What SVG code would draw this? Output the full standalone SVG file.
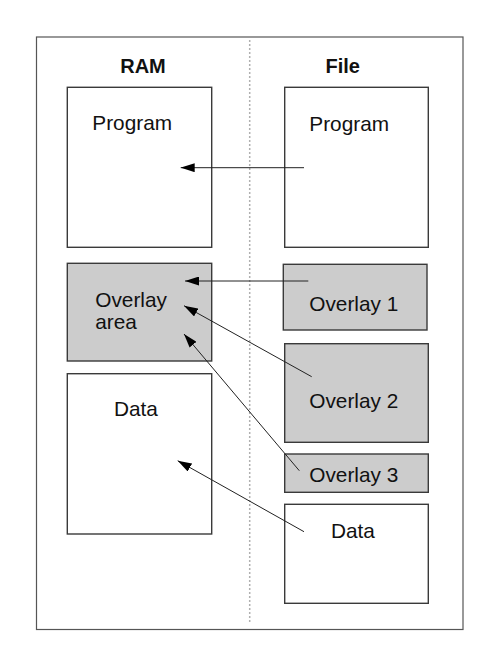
<svg xmlns="http://www.w3.org/2000/svg" width="500" height="667" viewBox="0 0 500 667">
<style>
.box{stroke:#3a3a3a;stroke-width:1.4;fill:#fff}
.gray{fill:#cccccc}
.t{font-family:"Liberation Sans",Arial,sans-serif;font-size:20.8px;fill:#111}
.h{font-family:"Liberation Sans",Arial,sans-serif;font-size:20px;font-weight:bold;fill:#111}
.c{stroke:#222;stroke-width:1;fill:none;marker-end:url(#ah)}
</style>
<defs>
<marker id="ah" viewBox="0 0 14 9" refX="14" refY="4.5" markerWidth="14" markerHeight="9" markerUnits="userSpaceOnUse" orient="auto">
<path d="M0,0 L14,4.5 L0,9 Z" fill="#000"/>
</marker>
</defs>
<rect x="36.5" y="37" width="426.5" height="592.5" fill="#fff" stroke="#555" stroke-width="1.2"/>
<line x1="249.7" y1="40" x2="249.7" y2="623" stroke="#b0b0b0" stroke-width="1.5" stroke-dasharray="2,2"/>
<text class="h" x="143" y="72.7" text-anchor="middle">RAM</text>
<text class="h" x="342.7" y="72.7" text-anchor="middle">File</text>
<g id="ram-program"><rect class="box" x="67.3" y="87.3" width="144.4" height="160"/><text class="t" x="92.3" y="130">Program</text></g>
<g id="ram-overlay"><rect class="box gray" x="67.3" y="263.3" width="144.4" height="97.7"/><text class="t" x="95.3" y="306.7">Overlay</text><text class="t" x="95.3" y="329.3">area</text></g>
<g id="ram-data"><rect class="box" x="67.3" y="373.7" width="144.4" height="160.3"/><text class="t" x="114" y="415.7">Data</text></g>
<g id="file-program"><rect class="box" x="284.7" y="87.3" width="143.6" height="160"/><text class="t" x="309.3" y="130.7">Program</text></g>
<g id="file-overlay1"><rect class="box gray" x="283.3" y="264.3" width="143.7" height="65.7"/><text class="t" x="309.3" y="310.7">Overlay 1</text></g>
<g id="file-overlay2"><rect class="box gray" x="284.7" y="343.7" width="143.6" height="98.6"/><text class="t" x="309.3" y="408.3">Overlay 2</text></g>
<g id="file-overlay3"><rect class="box gray" x="284.7" y="454" width="143.6" height="38.3"/><text class="t" x="309.3" y="482.3">Overlay 3</text></g>
<g id="file-data"><rect class="box" x="284.7" y="504.3" width="143.6" height="99"/><text class="t" x="331" y="538.3">Data</text></g>
<g id="connectors">
<line class="c" x1="304" y1="167.7" x2="180.7" y2="167.7"/>
<line class="c" x1="308.3" y1="281" x2="185" y2="281"/>
<line class="c" x1="311.7" y1="376.7" x2="184" y2="305.7"/>
<line class="c" x1="299.3" y1="470.7" x2="184" y2="334"/>
<line class="c" x1="304" y1="531.7" x2="177.7" y2="460.7"/>
</g>
</svg>
